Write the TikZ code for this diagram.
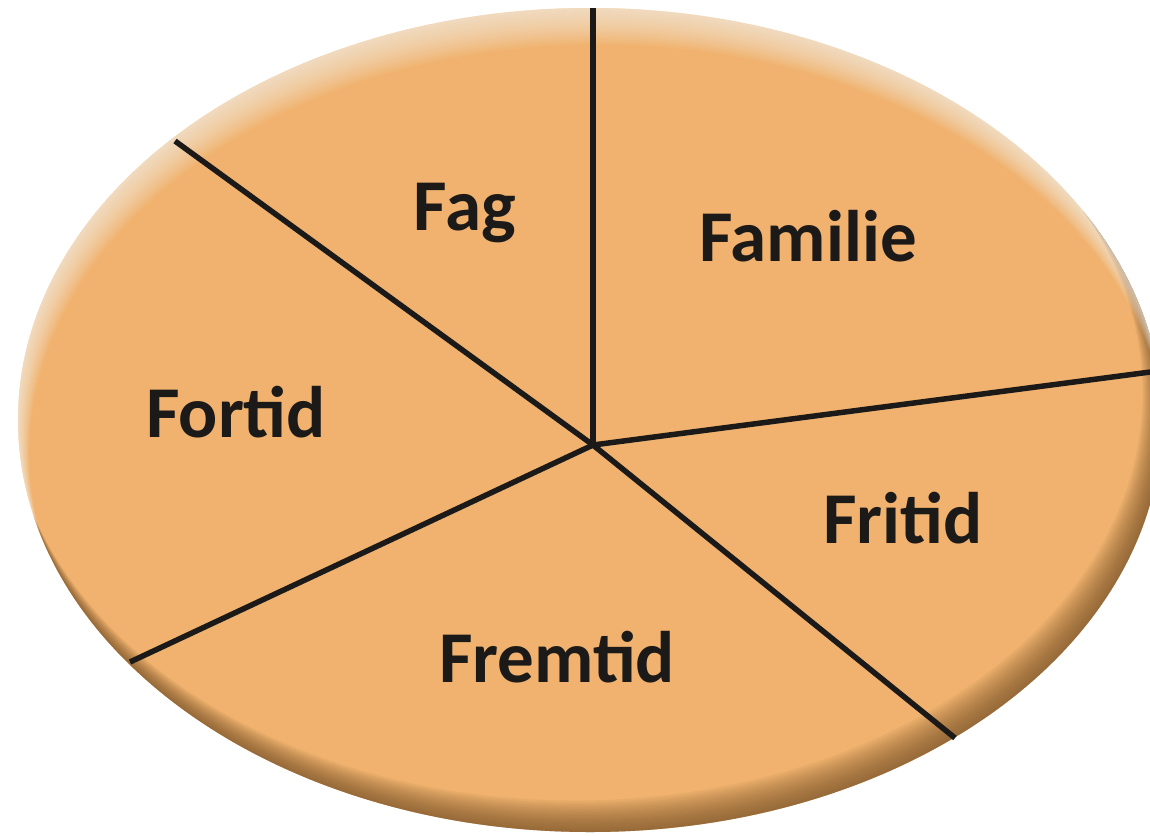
\documentclass[tikz,border=0pt]{standalone}
\usepackage{fontspec}
\setmainfont{Carlito}
\begin{document}
\begin{tikzpicture}[x=1pt,y=-1pt,
  spoke/.style={draw=ink, line width=5.5pt},
  lab/.style={text=ink, font=\fontsize{73}{80}\selectfont\bfseries, inner sep=0pt}]
\definecolor{base}{HTML}{F0B26E}
\definecolor{rim}{HTML}{6E4A22}
\definecolor{ink}{HTML}{1C1A18}
\useasboundingbox (0,0) rectangle (1150,835);
\fill[base] (590,420) ellipse [x radius=572, y radius=412];
\begin{scope}
  \clip (590,420) ellipse [x radius=572, y radius=412];
  \foreach \i in {1,...,15} {
    \fill[rim, opacity=0.065, even odd rule] (-10,-10) rectangle (1300,900)
      ({590-\i*1.0},{420-\i*1.8}) ellipse [x radius={572-\i*0.3}, y radius={412-\i*0.3}];
  }
  \foreach \i in {1,...,14} {
    \fill[white, opacity=0.06, even odd rule] (-10,-10) rectangle (1300,900)
      ({590+\i*0.6},{420+\i*2.4}) ellipse [x radius={572-\i*0.2}, y radius={412-\i*0.2}];
  }
\end{scope}
\coordinate (hub) at (593,445);
\coordinate (eTop) at (593,8);
\coordinate (eUL) at (175,141);
\coordinate (eR) at (1158,371);
\coordinate (eLR) at (955,738);
\coordinate (eLL) at (130,662);
\draw[spoke] (hub) -- (eTop);
\draw[spoke] (hub) -- (eUL);
\draw[spoke] (hub) -- (eR);
\draw[spoke] (hub) -- (eLR);
\draw[spoke] (hub) -- (eLL);
\node[lab] (fag) at (465,213) {Fag};
\node[lab] (familie) at (808,236) {Familie};
\node[lab] (fortid) at (236,412) {Fortid};
\node[lab] (fritid) at (903,518) {Fritid};
\node[lab] (fremtid) at (557,657) {Fremtid};
\end{tikzpicture}
\end{document}
